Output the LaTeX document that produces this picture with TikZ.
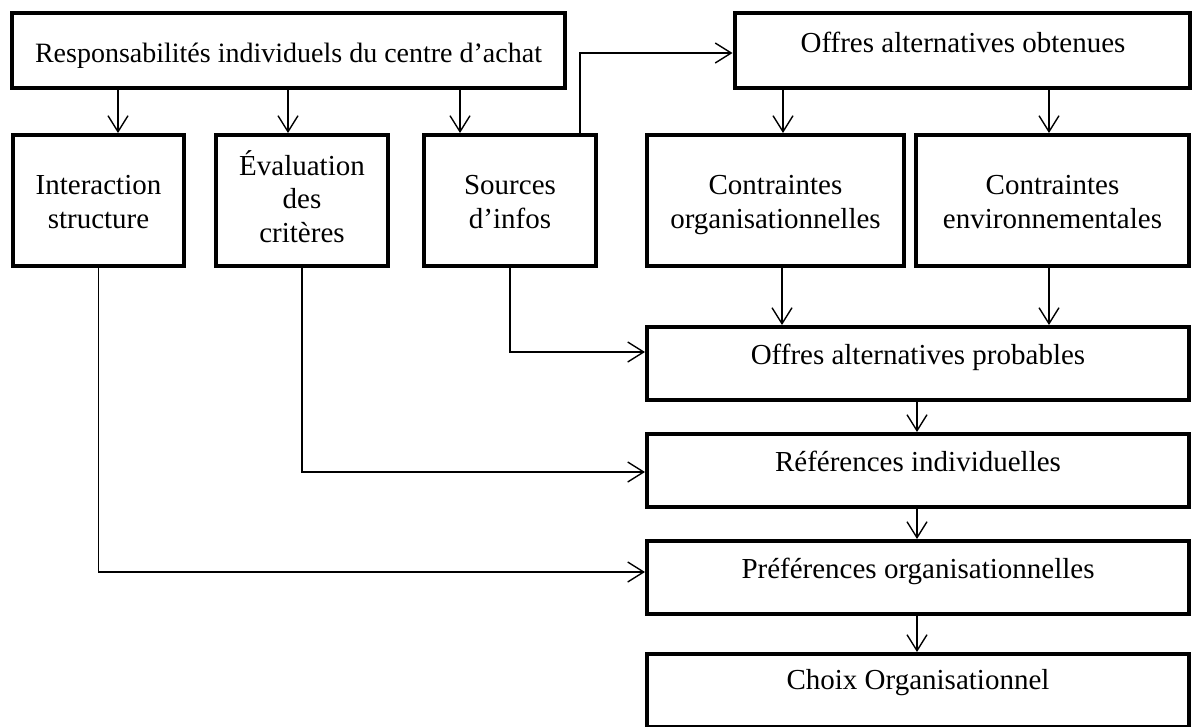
\documentclass[tikz,border=0pt]{standalone}
\usepackage{fontspec}
\setmainfont{Liberation Serif}
\usetikzlibrary{arrows.meta}
\begin{document}
\begin{tikzpicture}[x=1pt,y=-1pt,
  box/.style={draw, rectangle, line width=4pt, inner sep=0pt},
  txt/.style={font=\fontsize{29}{33.4}\selectfont, align=center, inner sep=0pt, anchor=base},
  arr/.style={line width=1.4pt, -{Straight Barb[length=16pt,width=20pt,line width=1.4pt]}}]
\useasboundingbox (0,0) rectangle (1192,726);

% boxes
\node[box, minimum width=553pt, minimum height=75pt]  (resp)  at (288.5,50.5) {};
\node[box, minimum width=455pt, minimum height=75pt]  (obt)   at (962,50.5) {};
\node[box, minimum width=171pt, minimum height=131pt] (inter) at (98.5,200.5) {};
\node[box, minimum width=172pt, minimum height=131pt] (eval)  at (302,200.5) {};
\node[box, minimum width=172pt, minimum height=131pt] (src)   at (510,200.5) {};
\node[box, minimum width=257pt, minimum height=131pt] (corg)  at (775.5,200.5) {};
\node[box, minimum width=273pt, minimum height=131pt] (cenv)  at (1052.5,200.5) {};
\node[box, minimum width=542pt, minimum height=73pt]  (prob)  at (918,363.5) {};
\node[box, minimum width=542pt, minimum height=73pt]  (refs)  at (918,470.5) {};
\node[box, minimum width=542pt, minimum height=73pt]  (pref)  at (918,577.5) {};
\node[box, minimum width=542pt, minimum height=73pt]  (choix) at (918,690.5) {};

% labels (base anchor = baseline of the last line)
\node[txt, font=\fontsize{28}{32}\selectfont] (resp-t) at (288.5,62) {Responsabilités individuels du centre d’achat};
\node[txt] (obt-t)   at (963,52)     {Offres alternatives obtenues};
\node[txt] (inter-t) at (98.5,228)   {Interaction\\structure};
\node[txt] (eval-t)  at (302,242)    {Évaluation\\des\\critères};
\node[txt] (src-t)   at (510,228)    {Sources\\d’infos};
\node[txt] (corg-t)  at (775.5,228)  {Contraintes\\organisationnelles};
\node[txt] (cenv-t)  at (1052.5,228) {Contraintes\\environnementales};
\node[txt] (prob-t)  at (918,364)    {Offres alternatives probables};
\node[txt] (refs-t)  at (918,471)    {Références individuelles};
\node[txt] (pref-t)  at (918,578)    {Préférences organisationnelles};
\node[txt] (choix-t) at (918,689)    {Choix Organisationnel};

% connectors
\draw[arr] ([xshift=19.5pt]inter.north |- resp.south) -- ([xshift=19.5pt]inter.north);
\draw[arr] ([xshift=-14pt]eval.north |- resp.south) -- ([xshift=-14pt]eval.north);
\draw[arr] ([xshift=-50pt]src.north |- resp.south) -- ([xshift=-50pt]src.north);
\draw[arr] ([xshift=70pt]src.north) |- ([yshift=-2.5pt]obt.west);
\draw[arr] ([xshift=7.5pt]corg.north |- obt.south) -- ([xshift=7.5pt]corg.north);
\draw[arr] ([xshift=-3.5pt]cenv.north |- obt.south) -- ([xshift=-3.5pt]cenv.north);
\draw[arr] ([xshift=6.5pt]corg.south) -- ([xshift=6.5pt]corg.south |- prob.north);
\draw[arr] ([xshift=-3.5pt]cenv.south) -- ([xshift=-3.5pt]cenv.south |- prob.north);
\draw[arr] (src.south) |- ([yshift=11.5pt]prob.west);
\draw[arr] ([xshift=-1pt]prob.south) -- ([xshift=-1pt]refs.north);
\draw[arr] ([xshift=-1pt]refs.south) -- ([xshift=-1pt]pref.north);
\draw[arr] ([xshift=-1pt]pref.south) -- ([xshift=-1pt]choix.north);
\draw[arr] (eval.south) |- ([yshift=-1.5pt]refs.west);
\draw[arr] (inter.south) |- ([yshift=5.5pt]pref.west);
\end{tikzpicture}
\end{document}
